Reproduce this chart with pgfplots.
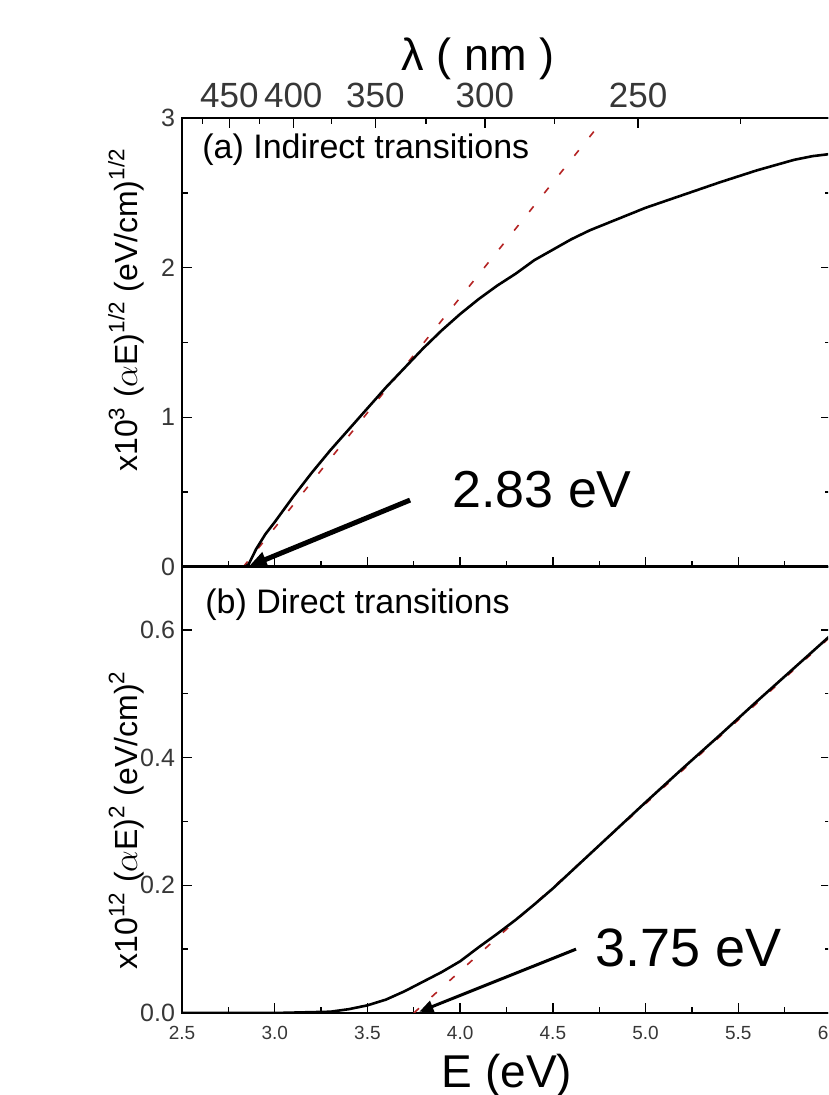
\documentclass[border=0pt]{standalone}
\usepackage{pgfplots}
\pgfplotsset{compat=1.18}
\usepackage{pgfplotstable}
\usepackage{fontspec}
\setmainfont{Liberation Sans}
\usetikzlibrary{arrows.meta}

% (alpha E)^{1/2}, indirect transitions
\pgfplotstableread{
E Y
2.50 0
2.70 0
2.84 0
2.86 0.02
2.90 0.12
2.95 0.22
3.00 0.30
3.10 0.47
3.20 0.63
3.30 0.78
3.40 0.92
3.50 1.06
3.60 1.20
3.70 1.33
3.80 1.46
3.90 1.58
4.00 1.69
4.10 1.79
4.20 1.88
4.30 1.96
4.40 2.05
4.50 2.12
4.60 2.19
4.70 2.25
4.80 2.30
4.90 2.35
5.00 2.40
5.20 2.485
5.40 2.57
5.60 2.65
5.80 2.72
5.90 2.745
6.00 2.76
}\indirect

% (alpha E)^2, direct transitions
\pgfplotstableread{
E Y
2.50 0
3.00 0.000
3.30 0.002
3.40 0.006
3.50 0.012
3.60 0.021
3.70 0.034
3.80 0.049
3.90 0.064
4.00 0.081
4.10 0.103
4.20 0.124
4.30 0.146
4.40 0.170
4.50 0.195
4.60 0.222
4.70 0.249
4.80 0.276
4.90 0.303
5.00 0.330
5.20 0.383
5.40 0.435
5.60 0.488
5.80 0.540
6.00 0.592
}\direct

\definecolor{fitred}{RGB}{180,35,35}
\definecolor{ticktext}{RGB}{55,55,55}

\pgfplotsset{
  panel/.style={
    scale only axis, width=324.5pt,
    xmin=2.5, xmax=6,
    axis line style={line width=0.9pt},
    every tick/.style={black, line width=0.7pt},
    major tick length=5pt, minor tick length=3pt,
    tick align=inside,
    /pgf/number format/assume math mode=true,
    yticklabel style={font=\fontsize{12.5}{15}\selectfont, text=ticktext},
    xticklabel style={font=\fontsize{9.5}{11}\selectfont, text=ticktext, yshift=-3pt},
    ytick pos=both, yticklabel pos=left,
    xtick pos=bottom,
    xtick={2.5,3,3.5,4,4.5,5,5.5,6},
    minor x tick num=1,
  },
  fitline/.style={fitred, line width=0.8pt, dash pattern=on 3.5pt off 8.5pt},
  datacurve/.style={black, line width=1.3pt},
}

\begin{document}
\begin{tikzpicture}
\path[use as bounding box, clip] (0,0) rectangle (414pt,547.5pt);

% (a) indirect transitions
\begin{axis}[panel, at={(91pt,264pt)}, anchor=south west, height=224.5pt,
  ymin=0, ymax=3, ytick={0,1,2,3}, minor y tick num=1,
  xticklabels={}]
  \addplot[fitline] coordinates {(2.83,0) (4.78,3.0)};
  \addplot[datacurve] table[x=E, y=Y] {\indirect};
  \draw[line width=2.5pt, -{Triangle[length=9pt,width=7.5pt]}]
    (axis cs:3.73,0.447) -- (axis cs:2.86,0.004);
\end{axis}

% wavelength scale along the top edge
\begin{axis}[scale only axis, width=324.5pt, height=224.5pt,
  at={(91pt,264pt)}, anchor=south west,
  xmin=2.5, xmax=6, ymin=0, ymax=3, hide y axis,
  axis line style={line width=0.9pt},
  every tick/.style={black, line width=0.7pt},
  major tick length=5pt, minor tick length=3pt, tick align=inside,
  xtick pos=top, xticklabel pos=top,
  xtick={2.7556,3.1,3.5429,4.1333,4.96},
  xticklabels={450,400,350,300,250},
  minor xtick={2.6105,2.9176,3.3067,3.8154,4.5091,5.5111},
  xticklabel style={font=\fontsize{17.5}{20}\selectfont, text=ticktext, yshift=1.5pt}]
\end{axis}

% (b) direct transitions
\begin{axis}[panel, at={(91pt,41pt)}, anchor=south west, height=223.5pt,
  ymin=0, ymax=0.7, ytick={0,0.2,0.4,0.6}, minor ytick={0.1,0.3,0.5},
  yticklabel style={/pgf/number format/.cd, fixed, fixed zerofill, precision=1},
  xticklabel style={/pgf/number format/.cd, fixed, fixed zerofill, precision=1}]
  \addplot[fitline] coordinates {(3.75,0) (6.0,0.59)};
  \addplot[datacurve] table[x=E, y=Y] {\direct};
  \draw[line width=1.5pt, -{Triangle[length=7pt,width=6pt]}]
    (axis cs:4.625,0.100) -- (axis cs:3.78,0.002);
\end{axis}

% titles and annotations
\node[anchor=base, font=\fontsize{22.5}{26}\selectfont] at (239pt,512pt) {λ ( nm )};
\node[anchor=base, font=\fontsize{23}{26}\selectfont] at (253.5pt,3.5pt) {E (eV)};
\node[anchor=base, rotate=90, font=\fontsize{16}{19}\selectfont] at (68.5pt,392.5pt)
  {x10\textsuperscript{3} ($\alpha$E)\textsuperscript{1/2} (eV/cm)\textsuperscript{1/2}};
\node[anchor=base, rotate=90, font=\fontsize{16}{19}\selectfont] at (68.5pt,137.5pt)
  {x10\textsuperscript{12} ($\alpha$E)\textsuperscript{2} (eV/cm)\textsuperscript{2}};
\node[anchor=base west, inner sep=0pt, font=\fontsize{17}{20}\selectfont] at (101pt,468pt)
  {(a) Indirect transitions};
\node[anchor=base west, inner sep=0pt, font=\fontsize{17}{20}\selectfont] at (102.5pt,240.5pt)
  {(b) Direct transitions};
\node[anchor=base west, inner sep=0pt, font=\fontsize{26}{30}\selectfont] at (226pt,293.5pt)
  {2.83 eV};
\node[anchor=base west, inner sep=0pt, font=\fontsize{27}{31}\selectfont] at (297.5pt,64pt)
  {3.75 eV};
\end{tikzpicture}
\end{document}
